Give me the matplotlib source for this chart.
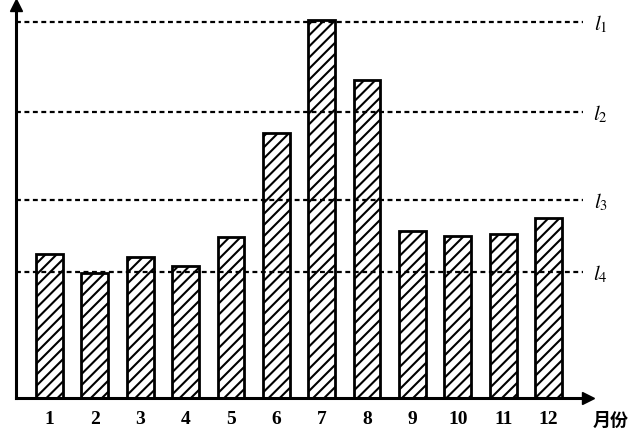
import matplotlib
matplotlib.use("Agg")
import matplotlib.pyplot as plt

months = ["1", "2", "3", "4", "5", "6", "7", "8", "9", "10", "11", "12"]
values = [144, 125, 141, 132, 161, 265, 378, 318, 167, 162, 164, 180]
line_names = ["$l_1$", "$l_2$", "$l_3$", "$l_4$"]
line_values = [376, 286, 198, 126]
x_unit = "月份"

plt.rcParams['hatch.linewidth'] = 1.5
plt.rcParams['mathtext.fontset'] = 'stix'

W, H = 634, 434
fig = plt.figure(figsize=(W / 100, H / 100), dpi=100)
left_px, right_px, top_px, base_px = 16, 588, 5, 398
ax = fig.add_axes([left_px / W, (H - base_px) / H, (right_px - left_px) / W, (base_px - top_px) / H])

x = list(range(1, len(months) + 1))
ax.bar(x, values, width=0.59, facecolor='white', edgecolor='black', linewidth=2.0, hatch='///', zorder=2)

for yv in line_values:
    ax.plot([0.26, 12.75], [yv, yv], color='black', linestyle=(0, (2.2, 1.6)), linewidth=1.6, zorder=3, clip_on=False)

for name, yv in zip(line_names, line_values):
    ax.text(13.15, yv - 2, name, fontsize=15, ha='center', va='center', clip_on=False)

ax.set_xlim(0.2615, 12.871)
ax.set_ylim(0, 393)

for s in ['top', 'right']:
    ax.spines[s].set_visible(False)
for s in ['left', 'bottom']:
    ax.spines[s].set_linewidth(2.2)
ax.set_yticks([])
ax.set_xticks(x)
ax.set_xticklabels(months, fontsize=14, family='Liberation Serif', fontweight='bold')
ax.tick_params(axis='x', length=0, pad=9)

# arrows
ax.plot([1], [0], marker='>', markersize=8, color='black', transform=ax.transAxes, clip_on=False)
ax.plot([0], [1], marker='^', markersize=8, color='black', transform=ax.transAxes, clip_on=False)

fig.text(611 / W, (H - 420) / H, x_unit, fontsize=13, family=['Noto Sans CJK SC', 'DejaVu Sans'],
         fontweight='bold', ha='center', va='center')

fig.savefig('out.png', dpi=100)
